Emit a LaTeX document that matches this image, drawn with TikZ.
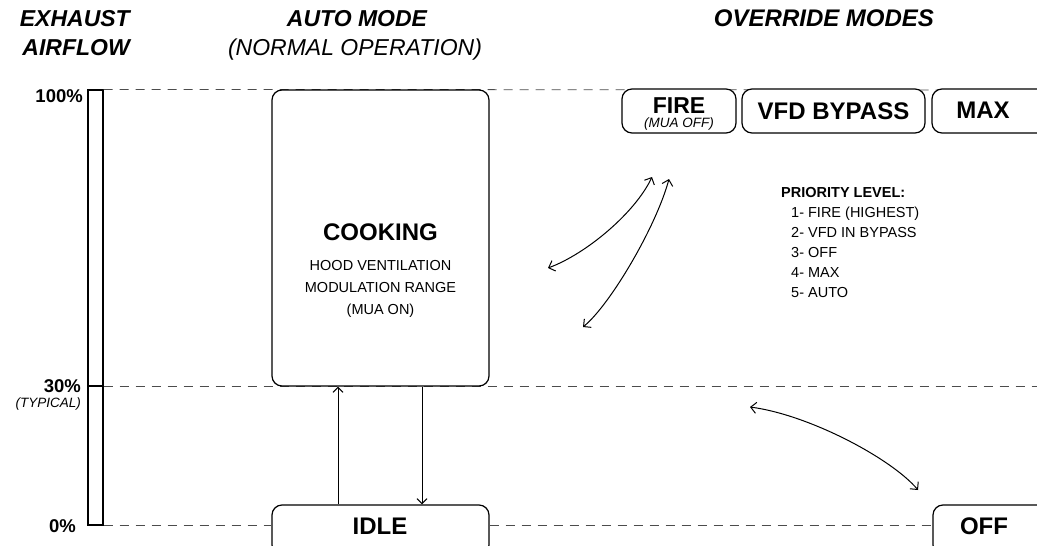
\documentclass[tikz,border=0pt]{standalone}
\usepackage{fontspec}
\setmainfont{Liberation Sans}
\usetikzlibrary{arrows.meta}
\newcommand\ttlfont{\fontsize{23}{27}\selectfont\bfseries\itshape}
\newcommand\ttlitfont{\fontsize{23}{27}\selectfont\itshape}
\newcommand\bigtxt{\fontsize{24}{28}\selectfont\bfseries}
\newcommand\firetxt{\fontsize{23}{24}\selectfont\bfseries}
\newcommand\smtxt{\fontsize{14.5}{17}\selectfont}
\newcommand\smit{\fontsize{13.5}{14}\selectfont\itshape}
\newcommand\pctfont{\fontsize{18.5}{20}\selectfont\bfseries}
\begin{document}
\begin{tikzpicture}[x=1pt,y=-1pt,
  guide/.style={draw=black!70, line width=0.8pt, dash pattern=on 9pt off 7pt},
  box/.style={draw, line width=1.2pt, rounded corners=10pt, fill=white, inner sep=0pt},
  conn/.style={line width=1pt, -{Straight Barb[length=5pt,width=10pt]}},
  dconn/.style={line width=1pt, {Straight Barb[length=5.5pt,width=11pt]}-{Straight Barb[length=5.5pt,width=11pt]}},
  lab/.style={inner sep=0pt}]
\useasboundingbox (0,0) rectangle (1037,546);
\clip (0,0) rectangle (1037,546);

% titles
\node[lab, anchor=base east] (t1) at (130,26) {\ttlfont EXHAUST};
\node[lab, anchor=base east] (t2) at (130,56) {\ttlfont AIRFLOW};
\node[lab, anchor=base] (t3) at (357,26) {\ttlfont AUTO MODE};
\node[lab, anchor=base] (t4) at (355,56) {\ttlitfont (NORMAL OPERATION)};
\node[lab, anchor=base] (t5) at (824,26) {\fontsize{24}{28}\selectfont\bfseries\itshape OVERRIDE MODES};

% coordinates
\coordinate (p30) at (0,386);
\coordinate (r100) at (1045,90);
\coordinate (r30) at (1045,386);

% bar
\node[draw, line width=1.2pt, minimum width=15pt, minimum height=435pt, inner sep=0pt, fill=white] (bar) at (95.5,307.5) {};
\draw[line width=1.2pt] (bar.west |- p30) -- (bar.east |- p30);

% percentage labels
\node[lab, anchor=base east] (l100) at (83,102) {\pctfont 100\%};
\node[lab, anchor=base east] (l30) at (81,392) {\pctfont 30\%};
\node[lab, anchor=base east] (ltyp) at (81,407) {\smit (TYPICAL)};
\node[lab, anchor=base east] (l0) at (76,532) {\pctfont 0\%};

% guide lines
\draw[guide] (bar.north east) -- (r100);
\draw[guide] (bar.east |- p30) -- (r30);

% boxes
\node[box, minimum width=217pt, minimum height=296pt] (cook) at (380.5,238) {};
\node[box, minimum width=217pt, minimum height=50pt] (idle) at (380.5,530) {};
\node[box, minimum width=117pt, minimum height=50pt] (off) at (991.5,530) {};
\node[box, minimum width=114pt, minimum height=44pt] (fire) at (679,111) {};
\node[box, minimum width=183pt, minimum height=44pt] (vfd) at (833.5,111) {\bigtxt VFD BYPASS};
\node[box, minimum width=116pt, minimum height=44pt] (max) at (990,111) {};
\draw[guide] (bar.south east) -- (idle.west |- bar.south);
\draw[guide] (idle.east |- bar.south) -- (off.west |- bar.south);

% box texts
\node[lab, anchor=base] (idlet) at (380,534) {\bigtxt IDLE};
\node[lab, anchor=base] (offt) at (984,534) {\bigtxt OFF};
\node[lab, anchor=base] (maxt) at (983,118) {\bigtxt MAX};
\node[lab, anchor=base] (firet) at (679,113) {\firetxt FIRE};
\node[lab, anchor=base] (mua) at (679,127) {\smit (MUA OFF)};

% cooking texts
\node[lab, anchor=base] (ck) at (380.5,240) {\bigtxt COOKING};
\node[lab, anchor=base] (ck1) at (380.5,270) {\smtxt HOOD VENTILATION};
\node[lab, anchor=base] (ck2) at (380.5,292) {\smtxt MODULATION RANGE};
\node[lab, anchor=base] (ck3) at (380.5,314) {\smtxt (MUA ON)};

% vertical arrows
\coordinate (ux) at (338,0);
\coordinate (dx) at (422,0);
\draw[conn] (idle.north -| ux) -- (cook.south -| ux);
\draw[conn] (cook.south -| dx) -- (idle.north -| dx);

% curved arrows
\coordinate (a1s) at (548,268);
\coordinate (a1e) at (652,177);
\coordinate (a2s) at (583,327);
\coordinate (a2e) at (669,179);
\coordinate (a3s) at (750,407);
\coordinate (a3e) at (918,490);
\draw[dconn] (a1s) .. controls (586,254) and (635,213) .. (a1e);
\draw[dconn] (a2s) .. controls (610,305) and (656,227) .. (a2e);
\draw[dconn] (a3s) .. controls (810,415) and (892,459) .. (a3e);

% priority list
\node[lab, anchor=base west] (pr) at (781,197) {\smtxt\bfseries PRIORITY LEVEL:};
\node[lab, anchor=base west] (pr1) at (791,217) {\smtxt 1- FIRE (HIGHEST)};
\node[lab, anchor=base west] (pr2) at (791,237) {\smtxt 2- VFD IN BYPASS};
\node[lab, anchor=base west] (pr3) at (791,257) {\smtxt 3- OFF};
\node[lab, anchor=base west] (pr4) at (791,277) {\smtxt 4- MAX};
\node[lab, anchor=base west] (pr5) at (791,297) {\smtxt 5- AUTO};
\end{tikzpicture}
\end{document}
